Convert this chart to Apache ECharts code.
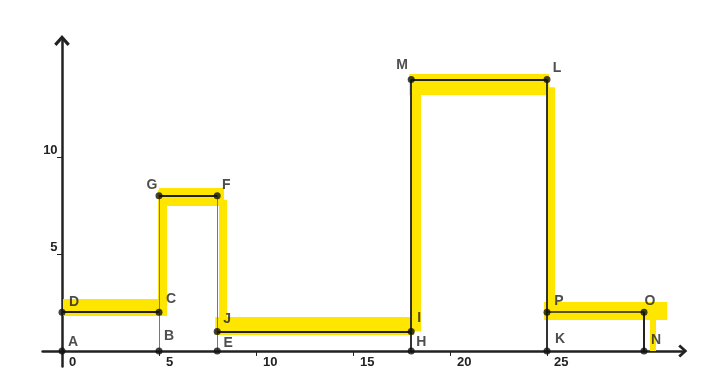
<!DOCTYPE html>
<html>
<head>
<meta charset="utf-8">
<script src="https://cdn.jsdelivr.net/npm/echarts@6/dist/echarts.min.js"></script>
<style>html,body{margin:0;padding:0;background:#fff}#c{width:715px;height:382px}</style>
</head>
<body>
<div id="c"></div>
<script>
// ---- data ----
const pointNames = ['A','B','C','D','E','F','G','H','I','J','K','L','M','N','O','P'];
const pointX     = [0, 5, 5, 0, 8, 8, 5, 18, 18, 8, 25, 25, 18, 30, 30, 25];
const pointY     = [0, 0, 2, 2, 0, 8, 8, 0, 1, 1, 0, 14, 14, 0, 2, 2];
const segments = [['D','C'],['B','G'],['G','F'],['F','E'],['J','I'],['H','M'],['M','L'],['L','K'],['P','O'],['O','N']];
const xTickValues = [0, 5, 10, 15, 20, 25];
const yTickValues = [5, 10];
// highlighter strokes: horizontal [x0, x1, y], vertical [x, y0, y1]
const highlightBands = [[0.05, 5.2, 2.25], [5.0, 8.35, 7.95], [7.9, 18.15, 1.3], [17.9, 25.1, 13.75], [24.85, 31.2, 2.05]];
const highlightStrokes = [[5.15, 1.8, 8.3], [8.3, 1.0, 7.8], [18.25, 1.0, 13.6], [25.2, 1.9, 13.6], [30.45, 0.0, 2.0]];

// ---- styles ----
const bandWidths = [17, 18, 18, 21, 18];
const strokeWidths = [9, 8, 10, 8, 6];
const segStyle = {
  'D-C': {width: 2, color: '#222'}, 'B-G': {width: 1, color: '#777'}, 'G-F': {width: 2, color: '#222'},
  'F-E': {width: 1, color: '#777'}, 'J-I': {width: 2, color: '#222'}, 'H-M': {width: 2, color: '#333'},
  'M-L': {width: 2, color: '#222'}, 'L-K': {width: 2, color: '#333'}, 'P-O': {width: 1.5, color: '#222'},
  'O-N': {width: 2, color: '#222'}
};
const labelOffset = {
  A: [11, -9], B: [10, -15], C: [12, -13], D: [12, -10], E: [11, -8], F: [9, -11], G: [-7, -11],
  H: [10, -9], I: [8, -13], J: [10, -12], K: [13, -12], L: [10, -11], M: [-9, -14], N: [12, -11],
  O: [6, -11], P: [12, -11]
};
const idx = n => pointNames.indexOf(n);
const pt = n => [pointX[idx(n)], pointY[idx(n)]];
const yellow = '#FFE600';
const chevron = 'path://M10,0 L20,11 L17,14 L10,6 L3,14 L0,11 Z';
const font = '"Liberation Sans", Arial, sans-serif';

const hlData = highlightBands.map((b, i) => ({coords: [[b[0], b[2]], [b[1], b[2]]], lineStyle: {width: bandWidths[i]}}))
  .concat(highlightStrokes.map((s, i) => ({coords: [[s[0], s[1]], [s[0], s[2]]], lineStyle: {width: strokeWidths[i]}})));

const chart = echarts.init(document.getElementById('c'), null, {renderer: 'canvas'});
chart.setOption({
  animation: false,
  backgroundColor: '#fff',
  grid: {left: 42.6, right: 32.2, top: 40.6, bottom: 15.5, outerBoundsMode: 'none', containLabel: false},
  xAxis: {
    type: 'value', min: -1, max: 32,
    splitLine: {show: false},
    axisLine: {onZero: true, lineStyle: {color: '#222', width: 2.5}, symbol: ['none', chevron], symbolSize: [13, 10]},
    axisTick: {customValues: xTickValues.filter(v => v !== 0), length: 5, lineStyle: {color: '#222', width: 1}},
    axisLabel: {customValues: xTickValues, align: 'left', padding: [0, 0, 0, 7], margin: -11,
      color: '#222', fontFamily: font, fontSize: 13, fontWeight: 'bold'}
  },
  yAxis: {
    type: 'value', min: -0.8, max: 16,
    splitLine: {show: false},
    axisLine: {onZero: true, lineStyle: {color: '#222', width: 2.5}, symbol: ['none', chevron], symbolSize: [16, 11]},
    axisTick: {customValues: yTickValues, length: 5, lineStyle: {color: '#222', width: 1}},
    axisLabel: {customValues: yTickValues, verticalAlign: 'bottom', margin: -15,
      color: '#222', fontFamily: font, fontSize: 13, fontWeight: 'bold'}
  },
  series: [
    {type: 'lines', coordinateSystem: 'cartesian2d', z: 1, silent: true,
      lineStyle: {color: yellow, opacity: 1, cap: 'butt'}, data: hlData},
    {type: 'lines', coordinateSystem: 'cartesian2d', z: 2, silent: true,
      lineStyle: {opacity: 1},
      data: segments.map(s => ({coords: [pt(s[0]), pt(s[1])], lineStyle: segStyle[s[0] + '-' + s[1]]}))},
    {type: 'scatter', z: 3, symbolSize: 7, itemStyle: {color: '#111'},
      data: pointNames.map((n, i) => ({name: n, value: [pointX[i], pointY[i]],
        label: {show: true, position: 'inside', offset: labelOffset[n], formatter: '{b}',
          color: '#222', fontFamily: font, fontSize: 14, fontWeight: 'bold'}}))}
  ]
});
</script>
</body>
</html>
